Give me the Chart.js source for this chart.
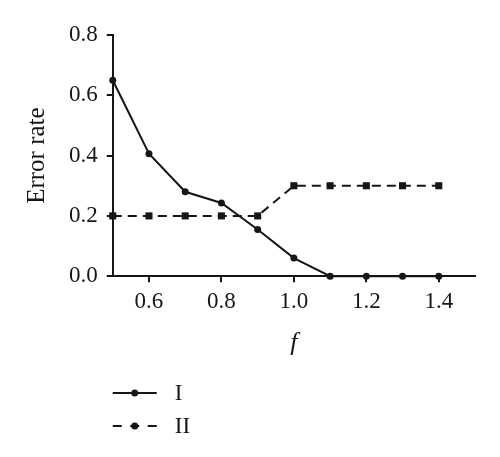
<!DOCTYPE html>
<html>
<head>
<meta charset="utf-8">
<script src="https://cdn.jsdelivr.net/npm/chart.js@4.4.1/dist/chart.umd.min.js"></script>
<style>
  html, body { margin: 0; padding: 0; background: #fff; }
  #wrap { width: 500px; height: 457px; }
</style>
</head>
<body>
<div id="wrap"><canvas id="chart" width="500" height="457"></canvas></div>
<script>
// data
const fValues = [0.5, 0.6, 0.7, 0.8, 0.9, 1.0, 1.1, 1.2, 1.3, 1.4];
const errorI = [0.65, 0.406, 0.28, 0.243, 0.155, 0.06, 0, 0, 0, 0];
const errorII = [0.2, 0.2, 0.2, 0.2, 0.2, 0.3, 0.3, 0.3, 0.3, 0.3];
const xTicks = [0.6, 0.8, 1.0, 1.2, 1.4];
const yTicks = [0, 0.2, 0.4, 0.6, 0.8];
const seriesNames = ['I', 'II'];

const ink = '#161616';
const serif = "'Liberation Serif', 'DejaVu Serif', serif";

function toPoints(ys) {
    return fValues.map((x, i) => ({ x: x, y: ys[i] }));
}

// legend drawn under the plot, one row per series
const stackedLegend = {
    id: 'stackedLegend',
    afterDraw(chart) {
        const ctx = chart.ctx;
        const left = chart.chartArea.left;
        const rows = [393, 426];
        chart.data.datasets.forEach((ds, i) => {
            const y = rows[i];
            ctx.save();
            ctx.strokeStyle = ds.borderColor;
            ctx.lineWidth = ds.borderWidth;
            ctx.setLineDash(ds.borderDash ? [9, 8.5] : []);
            ctx.beginPath();
            ctx.moveTo(left, y);
            ctx.lineTo(left + 44, y);
            ctx.stroke();
            ctx.setLineDash([]);
            ctx.fillStyle = ink;
            ctx.beginPath();
            ctx.arc(left + 22, y, 3.5, 0, Math.PI * 2);
            ctx.fill();
            ctx.font = '23px ' + serif;
            ctx.textBaseline = 'middle';
            ctx.fillText(ds.label, left + 62, y + 1);
            ctx.restore();
        });
    }
};

new Chart(document.getElementById('chart'), {
    type: 'line',
    data: {
        datasets: [{
            label: seriesNames[0],
            data: toPoints(errorI),
            borderColor: ink,
            backgroundColor: ink,
            borderWidth: 2,
            pointStyle: 'circle',
            pointRadius: 3.5,
            pointBorderWidth: 0,
            clip: false
        }, {
            label: seriesNames[1],
            data: toPoints(errorII),
            borderColor: ink,
            backgroundColor: ink,
            borderWidth: 2,
            borderDash: [9, 6],
            pointStyle: 'rect',
            pointRadius: 5,
            pointBorderWidth: 0,
            clip: false
        }]
    },
    options: {
        responsive: false,
        animation: false,
        layout: { padding: { top: 35, right: 25, bottom: 94, left: 18 } },
        plugins: {
            legend: { display: false },
            tooltip: { enabled: false }
        },
        scales: {
            x: {
                type: 'linear',
                min: 0.5,
                max: 1.5,
                afterBuildTicks(axis) {
                    axis.ticks = xTicks.map(v => ({ value: v }));
                },
                grid: { drawOnChartArea: false, drawTicks: true, tickLength: 6, color: ink, lineWidth: 2 },
                border: { color: ink, width: 2 },
                ticks: {
                    color: ink,
                    padding: 6,
                    font: { family: serif, size: 23 },
                    callback: v => v.toFixed(1)
                },
                title: {
                    display: true,
                    text: 'f',
                    color: ink,
                    font: { family: serif, size: 26, style: 'italic' },
                    padding: { top: 6 }
                }
            },
            y: {
                min: 0,
                max: 0.8,
                afterBuildTicks(axis) {
                    axis.ticks = yTicks.map(v => ({ value: v }));
                },
                grid: { drawOnChartArea: false, drawTicks: true, tickLength: 6, color: ink, lineWidth: 2 },
                border: { color: ink, width: 2 },
                ticks: {
                    color: ink,
                    padding: 9,
                    font: { family: serif, size: 23 },
                    callback: v => v.toFixed(1)
                },
                title: {
                    display: true,
                    text: 'Error rate',
                    color: ink,
                    font: { family: serif, size: 25 },
                    padding: { bottom: 8 }
                }
            }
        }
    },
    plugins: [stackedLegend]
});
</script>
</body>
</html>
